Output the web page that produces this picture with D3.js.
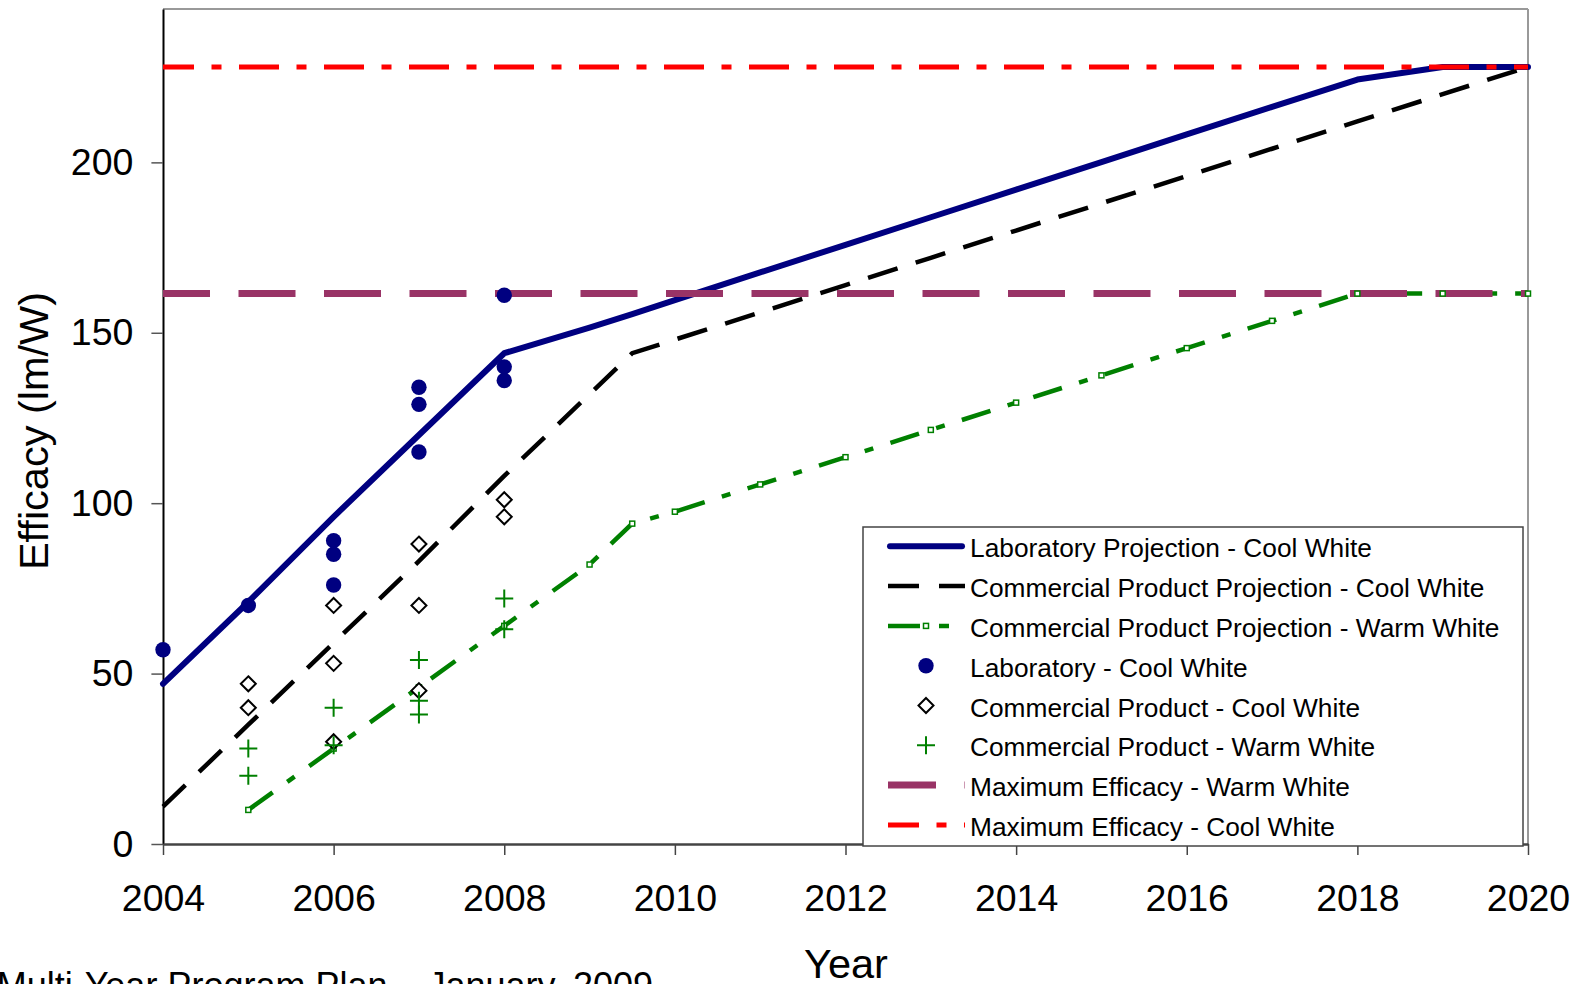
<!DOCTYPE html>
<html>
<head>
<meta charset="utf-8">
<script src="https://cdn.jsdelivr.net/npm/d3@7"></script>
<style>
  body { margin: 0; background: #fff; }
  svg { display: block; font-family: Arial, "Liberation Sans", sans-serif; }
</style>
</head>
<body>
<div id="chart"></div>
<script>
// projection series (x = year, 2009.5 is an extra point)
const projYears = [2004, 2005, 2006, 2007, 2008, 2009, 2009.5, 2010, 2011, 2012, 2013, 2014, 2015, 2016, 2017, 2018, 2019, 2020];
const labCoolProj = [47, 71, 96, 120, 144, 151.5, 155.5, 159.6, 167.7, 175.8, 183.9, 192, 200.1, 208.2, 216.3, 224.3, 228, 228];
const commCoolProj = [11, 35, 59, 83, 108, 132, 144, 148, 156, 164, 172, 180, 188, 196, 204, 212, 220, 228];
const commWarmProj = [null, 10, 28, 46, 64, 82, 94, 97.5, 105.5, 113.5, 121.5, 129.5, 137.5, 145.5, 153.5, 161.5, 161.5, 161.5];

// measured points
const labCoolYears = [2004, 2005, 2006, 2006, 2006, 2007, 2007, 2007, 2008, 2008, 2008];
const labCoolValues = [57, 70, 76, 85, 89, 115, 129, 134, 136, 140, 161];
const commCoolYears = [2005, 2005, 2006, 2006, 2006, 2007, 2007, 2007, 2008, 2008];
const commCoolValues = [47, 40, 70, 53, 30, 88, 70, 45, 101, 96];
const commWarmYears = [2005, 2005, 2006, 2006, 2007, 2007, 2007, 2008, 2008];
const commWarmValues = [28, 20, 40, 29, 54, 42, 38, 72, 63];

const maxWarm = 161.5;
const maxCool = 228;

const xTicks = [2004, 2006, 2008, 2010, 2012, 2014, 2016, 2018, 2020];
const yTicks = [0, 50, 100, 150, 200];

const legendLabels = [
  "Laboratory Projection - Cool White",
  "Commercial Product Projection - Cool White",
  "Commercial Product Projection - Warm White",
  "Laboratory - Cool White",
  "Commercial Product - Cool White",
  "Commercial Product - Warm White",
  "Maximum Efficacy - Warm White",
  "Maximum Efficacy - Cool White"
];

(function() {
  const W = 1577, H = 984;
  const margin = { top: 9, right: 49, bottom: 140, left: 163 };
  const width = W - margin.left - margin.right;
  const height = H - margin.top - margin.bottom;

  const NAVY = "#000080", GREEN = "#008000", PURPLE = "#993366", RED = "#ff0000";

  const svg = d3.select("#chart").append("svg")
    .attr("width", W)
    .attr("height", H);

  const g = svg.append("g")
    .attr("transform", "translate(" + margin.left + "," + margin.top + ")");

  const x = d3.scaleLinear().domain([2004, 2020]).range([0, width]);
  const y = d3.scaleLinear().domain([0, 245]).range([height, 0]);

  // plot frame (top / right)
  g.append("line").attr("x1", 0).attr("x2", width).attr("y1", 0).attr("y2", 0)
    .attr("stroke", "#999").attr("stroke-width", 2.2);
  g.append("line").attr("x1", width).attr("x2", width).attr("y1", 0).attr("y2", height)
    .attr("stroke", "#999").attr("stroke-width", 2);

  // axes
  const yAxis = g.append("g")
    .call(d3.axisLeft(y).tickValues(yTicks).tickSize(11.6).tickSizeOuter(0).tickPadding(18));
  yAxis.select(".domain").attr("stroke", "#000").attr("stroke-width", 2);
  yAxis.selectAll(".tick line").attr("stroke", "#555").attr("stroke-width", 1.5);
  yAxis.selectAll("text").attr("font-size", 37.5).attr("fill", "#000")
    .attr("font-family", "Arial, 'Liberation Sans', sans-serif");

  const xAxis = g.append("g")
    .attr("transform", "translate(0," + height + ")")
    .call(d3.axisBottom(x).tickValues(xTicks).tickFormat(d3.format("d")).tickSize(11).tickSizeOuter(0).tickPadding(29.5));
  xAxis.select(".domain").attr("stroke", "#444").attr("stroke-width", 2.5);
  xAxis.selectAll(".tick line").attr("stroke", "#444").attr("stroke-width", 1.5);
  xAxis.selectAll("text").attr("font-size", 37.5).attr("fill", "#000")
    .attr("font-family", "Arial, 'Liberation Sans', sans-serif");

  // axis titles
  svg.append("text")
    .attr("transform", "translate(48," + 431 + ") rotate(-90)")
    .attr("text-anchor", "middle")
    .attr("font-size", 41.5)
    .text("Efficacy (lm/W)");

  svg.append("text")
    .attr("x", 846).attr("y", 978)
    .attr("text-anchor", "middle")
    .attr("font-size", 41.5)
    .text("Year");

  svg.append("text")
    .attr("x", 653).attr("y", 998)
    .attr("text-anchor", "end")
    .attr("font-size", 36)
    .text("Multi-Year Program Plan \u2013 January, 2009");

  // projection lines
  const projLine = vals => d3.line()
    .defined((d, i) => vals[i] != null)
    .x((d, i) => x(projYears[i]))
    .y((d, i) => y(vals[i]))(vals);

  g.append("path")
    .attr("d", projLine(labCoolProj))
    .attr("fill", "none").attr("stroke", NAVY).attr("stroke-width", 6)
    .attr("stroke-linecap", "round").attr("stroke-linejoin", "round");

  g.append("path")
    .attr("d", projLine(commCoolProj))
    .attr("fill", "none").attr("stroke", "#000").attr("stroke-width", 4.5)
    .attr("stroke-dasharray", "31,19");

  const warmIdx = projYears.map((d, i) => i).filter(i => commWarmProj[i] != null);
  g.append("path")
    .attr("d", d3.line().x(i => x(projYears[i])).y(i => y(commWarmProj[i]))(warmIdx))
    .attr("fill", "none").attr("stroke", GREEN).attr("stroke-width", 4.5)
    .attr("stroke-dasharray", "30,18,9,18");

  // maximum efficacy lines
  g.append("line")
    .attr("x1", x(2004)).attr("x2", x(2020))
    .attr("y1", y(maxWarm)).attr("y2", y(maxWarm))
    .attr("stroke", PURPLE).attr("stroke-width", 7)
    .attr("stroke-dasharray", "57,28.5").attr("stroke-dashoffset", 10);

  g.append("line")
    .attr("x1", x(2004)).attr("x2", x(2020))
    .attr("y1", y(maxCool)).attr("y2", y(maxCool))
    .attr("stroke", RED).attr("stroke-width", 5)
    .attr("stroke-dasharray", "40,17.5,10,17.5").attr("stroke-dashoffset", 9);

  // markers
  g.selectAll(".wsq")
    .data(warmIdx)
    .join("rect")
    .attr("class", "wsq")
    .attr("x", i => x(projYears[i]) - 2.5)
    .attr("y", i => y(commWarmProj[i]) - 2.5)
    .attr("width", 5).attr("height", 5)
    .attr("fill", "#fff").attr("stroke", GREEN).attr("stroke-width", 1.5);

  const diamond = s => "M0," + (-s) + "L" + s + ",0L0," + s + "L" + (-s) + ",0Z";
  const plus = s => "M" + (-s) + ",0H" + s + "M0," + (-s) + "V" + s;

  g.selectAll(".lab")
    .data(labCoolValues)
    .join("circle")
    .attr("class", "lab")
    .attr("cx", (d, i) => x(labCoolYears[i]))
    .attr("cy", d => y(d))
    .attr("r", 7.7)
    .attr("fill", NAVY);

  g.selectAll(".ccw")
    .data(commCoolValues)
    .join("path")
    .attr("class", "ccw")
    .attr("transform", (d, i) => "translate(" + x(commCoolYears[i]) + "," + y(d) + ")")
    .attr("d", diamond(7.5))
    .attr("fill", "#fff").attr("stroke", "#000").attr("stroke-width", 2);

  g.selectAll(".cww")
    .data(commWarmValues)
    .join("path")
    .attr("class", "cww")
    .attr("transform", (d, i) => "translate(" + x(commWarmYears[i]) + "," + y(d) + ")")
    .attr("d", plus(9))
    .attr("fill", "none").attr("stroke", GREEN).attr("stroke-width", 2);

  // legend
  const lg = svg.append("g");
  lg.append("rect")
    .attr("x", 863).attr("y", 527).attr("width", 660).attr("height", 319)
    .attr("fill", "#fff").attr("stroke", "#444").attr("stroke-width", 1.5);

  const rowY = i => 557.3 + i * 39.8;
  const sx0 = 888, sx1 = 965, sxm = 926;

  legendLabels.forEach((label, i) => {
    const cy = rowY(i) - 11;
    const row = lg.append("g");
    if (i === 0) {
      row.append("line").attr("x1", sx0 + 2).attr("x2", sx1 - 3).attr("y1", cy).attr("y2", cy)
        .attr("stroke", NAVY).attr("stroke-width", 6).attr("stroke-linecap", "round");
    } else if (i === 1) {
      row.append("line").attr("x1", sx0).attr("x2", sx1).attr("y1", cy).attr("y2", cy)
        .attr("stroke", "#000").attr("stroke-width", 4.5).attr("stroke-dasharray", "31,20");
    } else if (i === 2) {
      row.append("line").attr("x1", sx0).attr("x2", sx1).attr("y1", cy).attr("y2", cy)
        .attr("stroke", GREEN).attr("stroke-width", 4.5).attr("stroke-dasharray", "32,19,10,30");
      row.append("rect").attr("x", sxm - 2.5).attr("y", cy - 2.5).attr("width", 5).attr("height", 5)
        .attr("fill", "#fff").attr("stroke", GREEN).attr("stroke-width", 1.5);
    } else if (i === 3) {
      row.append("circle").attr("cx", sxm).attr("cy", cy).attr("r", 7.7).attr("fill", NAVY);
    } else if (i === 4) {
      row.append("path").attr("transform", "translate(" + sxm + "," + cy + ")").attr("d", diamond(7.5))
        .attr("fill", "#fff").attr("stroke", "#000").attr("stroke-width", 2);
    } else if (i === 5) {
      row.append("path").attr("transform", "translate(" + sxm + "," + cy + ")").attr("d", plus(9))
        .attr("fill", "none").attr("stroke", GREEN).attr("stroke-width", 2);
    } else if (i === 6) {
      row.append("line").attr("x1", sx0).attr("x2", sx1).attr("y1", cy).attr("y2", cy)
        .attr("stroke", PURPLE).attr("stroke-width", 7)
        .attr("stroke-dasharray", "57,28.5").attr("stroke-dashoffset", 9);
    } else {
      row.append("line").attr("x1", sx0).attr("x2", sx1).attr("y1", cy).attr("y2", cy)
        .attr("stroke", RED).attr("stroke-width", 5)
        .attr("stroke-dasharray", "40,17.5,10,17.5").attr("stroke-dashoffset", 9);
    }
    row.append("text")
      .attr("x", 970).attr("y", rowY(i))
      .attr("font-size", 26.3)
      .text(label);
  });
})();
</script>
</body>
</html>
